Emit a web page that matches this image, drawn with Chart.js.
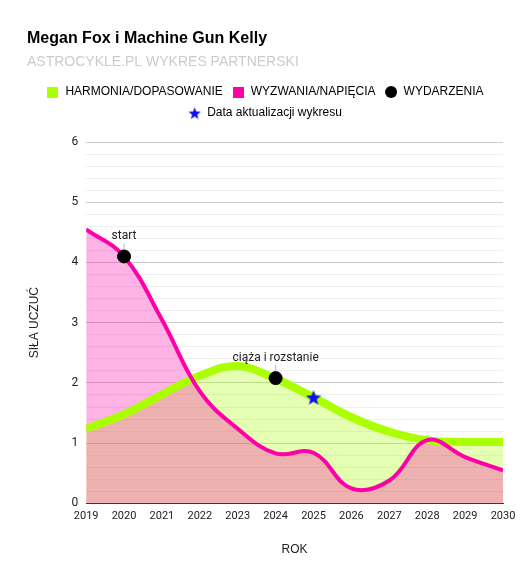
<!DOCTYPE html>
<html>
<head>
<meta charset="utf-8">
<script src="https://cdn.jsdelivr.net/npm/chart.js@4.4.1/dist/chart.umd.min.js"></script>
<style>
  html, body { margin: 0; padding: 0; background: #fff; }
  #wrap { width: 530px; height: 583px; }
</style>
</head>
<body>
<div id="wrap"><canvas id="chart"></canvas></div>
<script>
// DATA
const years = [2019, 2020, 2021, 2022, 2023, 2024, 2025, 2026, 2027, 2028, 2029, 2030];
const harmony = [1.24, 1.48, 1.81, 2.12, 2.28, 2.07, 1.76, 1.43, 1.19, 1.05, 1.02, 1.02];
const challenges = [4.55, 4.1, 3.05, 1.86, 1.24, 0.83, 0.84, 0.25, 0.38, 1.05, 0.77, 0.55];
const eventYears = [2020, 2024];
const eventValues = [4.1, 2.08];
const eventLabels = ['start', 'ciąża i rozstanie'];
const updateYear = [2025];
const updateValue = [1.76];

const GREEN = '#aaff00';
const PINK = '#ff00a8';
const BLUE = '#1010ee';

// small canvases used as markers
const makeStar = (size, color) => {
  const c = document.createElement('canvas');
  c.width = size; c.height = size;
  const g = c.getContext('2d');
  const cx = size / 2, cy = size / 2 + 0.8, R = size / 2, r = R * 0.42;
  g.beginPath();
  for (let i = 0; i < 10; i++) {
    const rad = i % 2 === 0 ? R : r;
    const a = -Math.PI / 2 + i * Math.PI / 5;
    g.lineTo(cx + rad * Math.cos(a), cy + rad * Math.sin(a));
  }
  g.closePath();
  g.fillStyle = color;
  g.fill();
  return c;
};
const makeSquare = (size, color) => {
  const c = document.createElement('canvas');
  c.width = size; c.height = size;
  const g = c.getContext('2d');
  g.fillStyle = color;
  g.fillRect(0, 0, size, size);
  return c;
};
const makeDot = (size, color) => {
  const c = document.createElement('canvas');
  c.width = size; c.height = size;
  const g = c.getContext('2d');
  g.beginPath();
  g.arc(size / 2, size / 2, size / 2, 0, Math.PI * 2);
  g.fillStyle = color;
  g.fill();
  return c;
};
const star = makeStar(16, BLUE);
const legendStar = makeStar(13, BLUE);

const toXY = (xs, ys) => xs.map((x, i) => ({ x: x, y: ys[i] }));

// labels above the events
const eventLabelPlugin = {
  id: 'eventLabels',
  afterDatasetsDraw(chart) {
    const meta = chart.getDatasetMeta(2);
    const ctx = chart.ctx;
    ctx.save();
    ctx.font = '12px Roboto';
    ctx.fillStyle = '#222';
    ctx.textAlign = 'center';
    ctx.textBaseline = 'middle';
    meta.data.forEach((pt, i) => {
      ctx.strokeStyle = '#bbb';
      ctx.lineWidth = 1;
      ctx.beginPath();
      ctx.moveTo(pt.x, pt.y - 13);
      ctx.lineTo(pt.x, pt.y - 7);
      ctx.stroke();
      ctx.fillText(eventLabels[i], pt.x, pt.y - 20);
    });
    ctx.restore();
  }
};

// a bit more room below the legend
const legendGap = {
  id: 'legendGap',
  beforeInit(chart) {
    const fit = chart.legend.fit;
    chart.legend.fit = function () {
      fit.bind(chart.legend)();
      this.height += 13;
    };
  }
};

const ctx = document.getElementById('chart').getContext('2d');
new Chart(ctx, {
  type: 'line',
  data: {
    datasets: [{
      label: 'HARMONIA/DOPASOWANIE',
      data: toXY(years, harmony),
      borderColor: GREEN,
      backgroundColor: 'rgba(170, 255, 0, 0.3)',
      borderWidth: 8,
      tension: 0.4,
      pointRadius: 0,
      fill: 'origin',
      order: 3
    }, {
      label: 'WYZWANIA/NAPIĘCIA',
      data: toXY(years, challenges),
      borderColor: PINK,
      backgroundColor: 'rgba(255, 0, 168, 0.3)',
      borderWidth: 4,
      tension: 0.4,
      pointRadius: 0,
      fill: 'origin',
      order: 2
    }, {
      type: 'scatter',
      label: 'WYDARZENIA',
      data: toXY(eventYears, eventValues),
      backgroundColor: '#000',
      borderColor: '#000',
      pointRadius: 6.5,
      pointHoverRadius: 6.5,
      order: 1
    }, {
      type: 'scatter',
      label: 'Data aktualizacji wykresu',
      data: toXY(updateYear, updateValue),
      pointStyle: star,
      backgroundColor: BLUE,
      order: 0
    }]
  },
  options: {
    responsive: true,
    maintainAspectRatio: false,
    animation: false,
    layout: { padding: { left: 27, right: 27, top: 29, bottom: 22 } },
    plugins: {
      filler: { drawTime: 'beforeDatasetsDraw' },
      tooltip: { enabled: false },
      title: {
        display: true,
        text: 'Megan Fox i Machine Gun Kelly',
        align: 'start',
        color: '#000',
        font: { family: 'Liberation Sans', size: 16, weight: 'bold' },
        padding: { top: 0, bottom: 6 }
      },
      subtitle: {
        display: true,
        text: 'ASTROCYKLE.PL WYKRES PARTNERSKI',
        align: 'start',
        color: '#cccccc',
        font: { family: 'Liberation Sans', size: 14 },
        padding: { bottom: 6 }
      },
      legend: {
        position: 'top',
        labels: {
          usePointStyle: true,
          boxHeight: 11,
          pointStyleWidth: 13,
          color: '#222',
          padding: 9,
          font: { family: 'Liberation Sans', size: 12 },
          generateLabels: () => [
            { text: 'HARMONIA/DOPASOWANIE', fillStyle: GREEN, strokeStyle: GREEN, lineWidth: 0, pointStyle: makeSquare(11, GREEN), datasetIndex: 0 },
            { text: 'WYZWANIA/NAPIĘCIA', fillStyle: PINK, strokeStyle: PINK, lineWidth: 0, pointStyle: makeSquare(11, PINK), datasetIndex: 1 },
            { text: 'WYDARZENIA', fillStyle: '#000', strokeStyle: '#000', lineWidth: 0, pointStyle: makeDot(12, '#000'), datasetIndex: 2 },
            { text: 'Data aktualizacji wykresu', fillStyle: BLUE, strokeStyle: BLUE, lineWidth: 0, pointStyle: legendStar, datasetIndex: 3 }
          ]
        }
      }
    },
    scales: {
      x: {
        type: 'linear',
        min: 2019,
        max: 2030,
        grid: { display: false, drawTicks: false },
        border: { color: '#333' },
        title: {
          display: true,
          text: 'ROK',
          color: '#222',
          font: { family: 'Liberation Sans', size: 12 },
          padding: { top: 14 }
        },
        ticks: {
          stepSize: 1,
          padding: 6,
          color: '#222',
          font: { family: 'Roboto', size: 11 },
          maxRotation: 0,
          callback: v => String(v)
        }
      },
      y: {
        min: 0,
        max: 6,
        border: { display: false },
        grid: {
          drawTicks: false,
          color: c => Math.abs(c.tick.value - Math.round(c.tick.value)) < 1e-6 ? '#cccccc' : '#eeeeee'
        },
        title: {
          display: true,
          text: 'SIŁA UCZUĆ',
          color: '#222',
          font: { family: 'Liberation Sans', size: 12 },
          padding: { top: 0, bottom: 22 }
        },
        ticks: {
          stepSize: 0.2,
          autoSkip: false,
          padding: 8,
          color: '#222',
          font: { family: 'Roboto', size: 12 },
          callback: v => Math.abs(v - Math.round(v)) < 1e-6 ? Math.round(v) : ''
        }
      }
    }
  },
  plugins: [eventLabelPlugin, legendGap]
});
</script>
</body>
</html>
